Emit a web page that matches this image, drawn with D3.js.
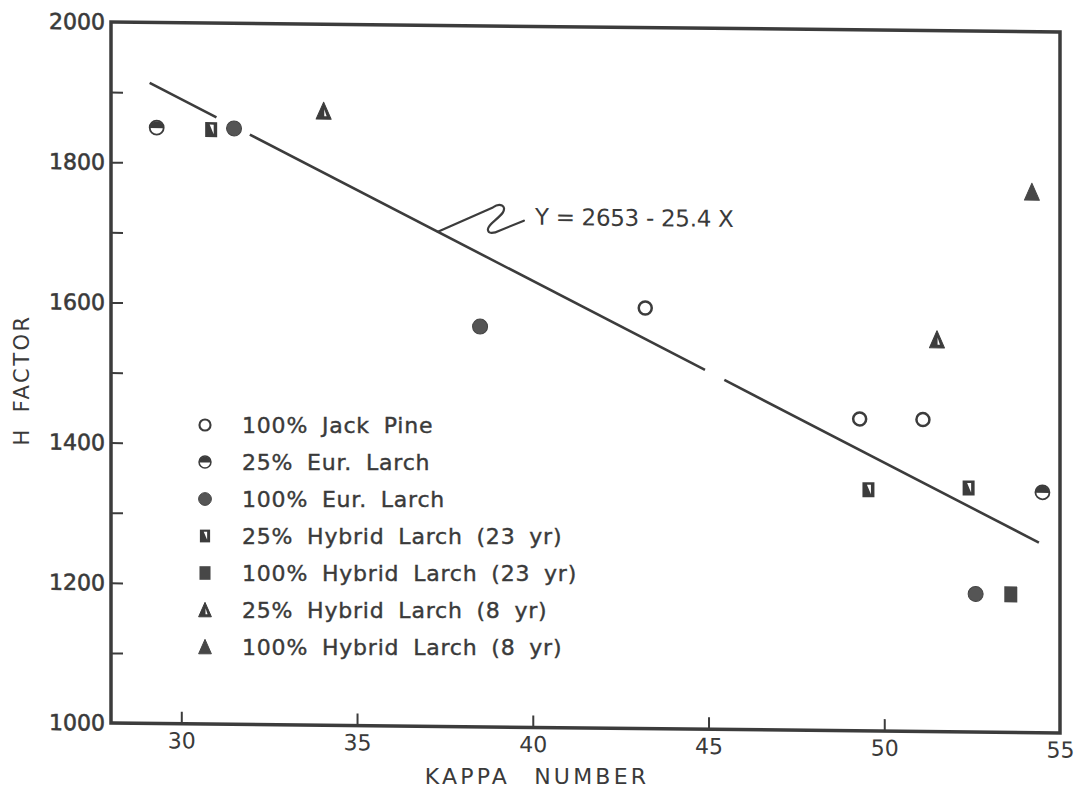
<!DOCTYPE html>
<html><head><meta charset="utf-8">
<script src="https://cdn.jsdelivr.net/npm/d3@7"></script>
<style>
html,body{margin:0;padding:0;background:#fff;}
svg{display:block;}
text{font-family:'DejaVu Sans',sans-serif;fill:#3a3a3a;}
</style></head><body>
<svg id="chart" width="1076" height="790"></svg>
<script>
// Kappa number (x) against H factor (y) for each furnish
const jackPine100   = [[43.2, 1600], [49.3, 1445], [51.1, 1445]];
const eurLarch25    = [[29.3, 1850], [54.5, 1343]];
const eurLarch100   = [[31.5, 1850], [38.5, 1571], [52.6, 1197]];
const hybrid23yr25  = [[30.85, 1848], [49.55, 1344], [52.4, 1348]];
const hybrid23yr100 = [[53.6, 1197]];
const hybrid8yr25   = [[34.05, 1876], [51.5, 1559]];
const hybrid8yr100  = [[54.2, 1771]];

const legendLabels = [
  "100% Jack Pine",
  "25% Eur. Larch",
  "100% Eur. Larch",
  "25% Hybrid Larch (23 yr)",
  "100% Hybrid Larch (23 yr)",
  "25% Hybrid Larch (8 yr)",
  "100% Hybrid Larch (8 yr)"
];
const symbolKinds = ["openCircle", "halfCircle", "filledCircle", "halfSquare",
                     "filledSquare", "halfTriangle", "filledTriangle"];

const xTicks = [30, 35, 40, 45, 50, 55];
const xInnerTicks = [30, 35, 40, 45, 50];
const yInnerTicks = [1100, 1200, 1300, 1400, 1500, 1600, 1700, 1800, 1900];
const yLabelTicks = [1000, 1200, 1400, 1600, 1800, 2000];

// least-squares line: Y = 2653 - 25.4 X
const fitIntercept = 2653;
const fitSlope = -25.4;
const fitSegments = [[29.1, 31.0], [31.95, 44.9], [45.45, 54.4]];
const equationText = "Y = 2653 - 25.4 X";
const equationAnchorX = 37.3;

const xTitle = "KAPPA NUMBER";
const yTitle = "H FACTOR";

const series = [jackPine100, eurLarch25, eurLarch100, hybrid23yr25,
                hybrid23yr100, hybrid8yr25, hybrid8yr100];

const ink = "#3c3c3c";
const plotLeft = 111, plotRight = 1060, plotTop = 22, plotBottom = 723;
const skew = 0.0105; // slight tilt of the plotted sheet

const svg = d3.select("#chart");
const x = d3.scaleLinear().domain([28, 55]).range([plotLeft, plotRight]);
const y = d3.scaleLinear().domain([1000, 2000]).range([plotBottom, plotTop]);
const fit = v => fitIntercept + fitSlope * v;

const plot = svg.append("g")
  .attr("transform", `matrix(1,${skew},0,1,0,${-plotLeft * skew})`);

// frame
plot.append("path")
  .attr("d", `M${plotLeft},${plotTop}H${plotRight}V${plotBottom}H${plotLeft}Z`)
  .attr("fill", "none").attr("stroke", ink).attr("stroke-width", 3.5)
  .attr("stroke-linejoin", "miter");

// inward ticks on the left axis
const yTickAxis = plot.append("g").attr("transform", `translate(${plotLeft},0)`)
  .call(d3.axisRight(y).tickValues(yInnerTicks).tickSize(12).tickFormat(""));
yTickAxis.select(".domain").remove();
yTickAxis.selectAll("line").attr("stroke", ink).attr("stroke-width", 2);

const yLabelAxis = plot.append("g").attr("transform", `translate(${plotLeft - 3},0)`)
  .call(d3.axisLeft(y).tickValues(yLabelTicks).tickSize(0).tickPadding(3)
    .tickFormat(d3.format("d")));
yLabelAxis.select(".domain").remove();
yLabelAxis.selectAll("text").attr("font-size", 22).attr("fill", ink)
  .attr("stroke", ink).attr("stroke-width", 0.6)
  .attr("font-family", "'DejaVu Sans',sans-serif");

// inward ticks on the bottom axis
const xTickAxis = plot.append("g").attr("transform", `translate(0,${plotBottom})`)
  .call(d3.axisTop(x).tickValues(xInnerTicks).tickSize(12).tickFormat(""));
xTickAxis.select(".domain").remove();
xTickAxis.selectAll("line").attr("stroke", ink).attr("stroke-width", 2);

const xLabelAxis = plot.append("g").attr("transform", `translate(0,${plotBottom + 2})`)
  .call(d3.axisBottom(x).tickValues(xTicks).tickSize(0).tickPadding(7));
xLabelAxis.select(".domain").remove();
xLabelAxis.selectAll("text").attr("font-size", 22).attr("fill", ink)
  .attr("font-family", "'DejaVu Sans',sans-serif");

// axis titles
svg.append("text").attr("x", 537).attr("y", 784).attr("text-anchor", "middle")
  .attr("font-size", 22).attr("letter-spacing", 3.2).attr("word-spacing", 14)
  .text(xTitle);
svg.append("text").attr("transform", "translate(29,380) rotate(-90)")
  .attr("text-anchor", "middle").attr("font-size", 21).attr("letter-spacing", 2.5)
  .attr("word-spacing", 6)
  .text(yTitle);

// regression line, broken where it passes the markers
const line = d3.line().x(d => x(d)).y(d => y(fit(d)));
plot.selectAll("path.fit").data(fitSegments).join("path").attr("class", "fit")
  .attr("d", d => line(d)).attr("fill", "none")
  .attr("stroke", ink).attr("stroke-width", 2.6);

// equation with its squiggle leader
const ax = x(equationAnchorX), ay = y(fit(equationAnchorX));
const eq = plot.append("g").attr("transform", `translate(${ax},${ay})`);
eq.append("path")
  .attr("d", "M0,0 L55,-25 C62,-30 69,-27 65,-20 C60,-13 50,-8 50,-3 C50,2 56,1 62,-2 L86,-12")
  .attr("fill", "none").attr("stroke", ink).attr("stroke-width", 2.2)
  .attr("stroke-linecap", "round").attr("stroke-linejoin", "round");
eq.append("text").attr("x", 97).attr("y", -8).attr("font-size", 23)
  .attr("letter-spacing", -0.3).attr("fill", ink).text(equationText);

// marker glyphs
function drawSymbol(g, kind, s) {
  const r = 7 * s;
  if (kind === "openCircle") {
    g.append("circle").attr("r", 6.5 * s).attr("fill", "#fff")
      .attr("stroke", ink).attr("stroke-width", 2.5 * s);
  } else if (kind === "halfCircle") {
    g.append("circle").attr("r", r).attr("fill", "#fff")
      .attr("stroke", ink).attr("stroke-width", 1.8 * s);
    g.append("path").attr("d", `M${-r},${0.5 * s}A${r},${r} 0 0 1 ${r},${0.5 * s}Z`)
      .attr("fill", ink);
  } else if (kind === "filledCircle") {
    g.append("circle").attr("r", 7.5 * s).attr("fill", "#555")
      .attr("stroke", "#444").attr("stroke-width", 1);
  } else if (kind === "halfSquare") {
    g.append("rect").attr("x", -6 * s).attr("y", -7.5 * s)
      .attr("width", 12 * s).attr("height", 15 * s).attr("fill", ink);
    g.append("path").attr("d", `M${-1.5 * s},${-5 * s}L${2.5 * s},${-5 * s}L${2.5 * s},${4.5 * s}Z`)
      .attr("fill", "#fff");
  } else if (kind === "filledSquare") {
    g.append("rect").attr("x", -6.5 * s).attr("y", -8 * s)
      .attr("width", 13 * s).attr("height", 16 * s).attr("fill", "#474747");
  } else if (kind === "halfTriangle") {
    g.append("path").attr("d", `M0,${-9 * s}L${7.5 * s},${8 * s}L${-7.5 * s},${8 * s}Z`)
      .attr("fill", ink).attr("stroke", ink).attr("stroke-width", 1)
      .attr("stroke-linejoin", "round");
    g.append("path").attr("d", `M${0.6 * s},${-2 * s}L${3 * s},${5 * s}L${0.6 * s},${5 * s}Z`)
      .attr("fill", "#fff");
  } else if (kind === "filledTriangle") {
    g.append("path").attr("d", `M0,${-9 * s}L${7.5 * s},${8 * s}L${-7.5 * s},${8 * s}Z`)
      .attr("fill", "#474747").attr("stroke", "#474747").attr("stroke-width", 1)
      .attr("stroke-linejoin", "round");
  }
}

// data points
series.forEach((pts, i) => {
  plot.append("g").selectAll("g").data(pts).join("g")
    .attr("transform", d => `translate(${x(d[0])},${y(d[1])})`)
    .each(function () { drawSymbol(d3.select(this), symbolKinds[i], 1); });
});

// legend
const legend = svg.append("g");
legendLabels.forEach((label, i) => {
  const row = legend.append("g").attr("transform", `translate(205,${425 + i * 37})`);
  drawSymbol(row.append("g"), symbolKinds[i], 0.85);
  row.append("text").attr("x", 37).attr("dy", "0.36em").attr("font-size", 22)
    .attr("letter-spacing", 0.8).attr("word-spacing", 6).attr("fill", ink)
    .attr("stroke", ink).attr("stroke-width", 0.4)
    .text(label);
});
</script>
</body></html>
